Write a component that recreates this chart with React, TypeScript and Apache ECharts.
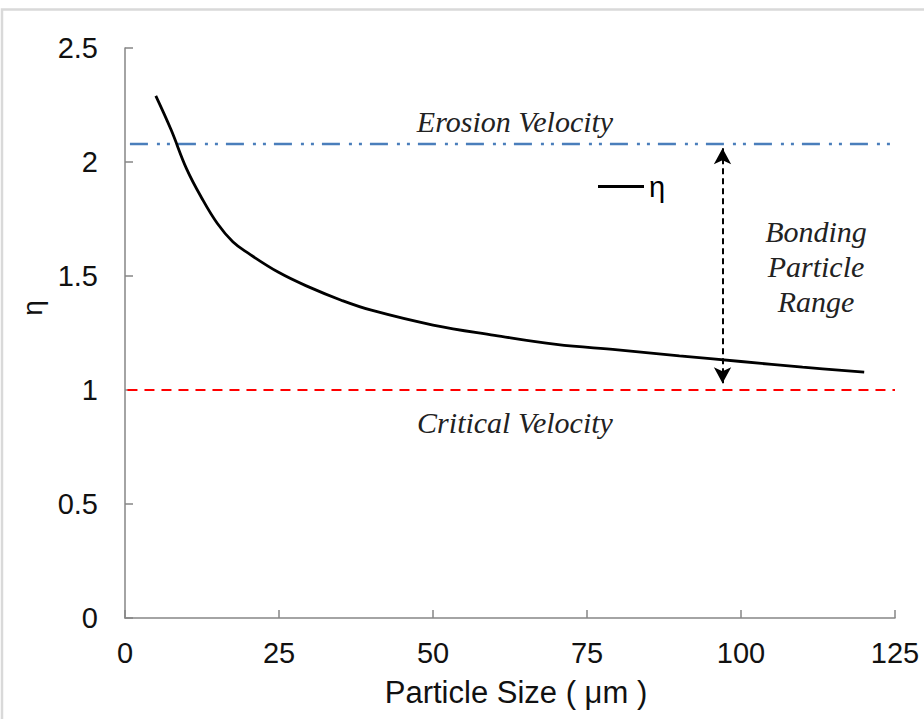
import React, { useEffect, useRef } from "react";
import * as echarts from "echarts";

// Particle size (µm) and η
const particleSize = [5, 7.5, 10, 12.5, 15, 17.5, 20, 25, 30, 35, 40, 50, 60, 70, 80, 90, 100, 110, 120];
const etaValues = [2.29, 2.14, 1.97, 1.84, 1.73, 1.65, 1.6, 1.515, 1.45, 1.395, 1.35, 1.285, 1.24, 1.2, 1.176, 1.15, 1.125, 1.1, 1.078];

// reference levels
const erosionEta = 2.08;
const criticalEta = 1.0;

// bonding range arrow
const rangeX = 97;
const rangeTop = 2.06;
const rangeBottom = 1.03;

const seriesName = "η";
const xName = "Particle Size ( μm )";
const yName = "η";
const erosionLabel = "Erosion Velocity";
const criticalLabel = "Critical Velocity";
const rangeLabel = "Bonding\nParticle\nRange";

const SANS = "Liberation Sans";
const SERIF = "Liberation Serif";

export default function App() {
  const ref = useRef<HTMLDivElement>(null);
  useEffect(() => {
    if (!ref.current) return;
    const chart = echarts.init(ref.current, undefined, { renderer: "svg" });
    const lineData = particleSize.map((x, i) => [x, etaValues[i]]);
    const serifText = (text: string, x: number, y: number, extra: any = {}) => ({
      type: "text",
      x,
      y,
      style: {
        text,
        fontFamily: SERIF,
        fontStyle: "italic",
        fontSize: 30,
        fill: "#222",
        align: "center",
        verticalAlign: "middle",
        ...extra,
      },
    });
    chart.setOption({
      animation: false,
      backgroundColor: "#ffffff",
      grid: { left: 125, right: 29, top: 48, bottom: 101, containLabel: false },
      legend: {
        data: [{ name: seriesName, icon: "path://M0,0 L46,0 L46,3 L0,3 Z" }],
        left: 593,
        top: 167,
        itemWidth: 46,
        itemHeight: 3,
        itemGap: 4,
        textStyle: { fontFamily: SANS, fontSize: 29, color: "#000" },
      },
      xAxis: {
        type: "value",
        min: 0,
        max: 125,
        interval: 25,
        name: xName,
        nameLocation: "middle",
        nameGap: 59,
        nameTextStyle: { fontFamily: SANS, fontSize: 31, color: "#111", padding: [0, 0, 0, 12] },
        axisLine: { show: true, lineStyle: { color: "#868686", width: 1.5 } },
        axisTick: { show: true, inside: true, length: 8, lineStyle: { color: "#868686", width: 1.5 } },
        axisLabel: { fontFamily: SANS, fontSize: 29, color: "#111", margin: 20 },
        splitLine: { show: false },
      },
      yAxis: {
        type: "value",
        min: 0,
        max: 2.5,
        interval: 0.5,
        axisLine: { show: true, lineStyle: { color: "#868686", width: 1.5 } },
        axisTick: { show: true, inside: true, length: 8, lineStyle: { color: "#868686", width: 1.5 } },
        axisLabel: { fontFamily: SANS, fontSize: 29, color: "#111", margin: 27 },
        splitLine: { show: false },
      },
      series: [
        {
          name: seriesName,
          type: "line",
          data: lineData,
          smooth: 0.4,
          symbol: "none",
          lineStyle: { color: "#000", width: 2.8 },
          itemStyle: { color: "#000" },
          z: 5,
        },
        {
          name: "erosion",
          type: "line",
          data: [],
          markLine: {
            silent: true,
            symbol: ["none", "none"],
            label: { show: false },
            lineStyle: { color: "#4A7EBB", width: 2.3, type: [18, 9, 3, 7, 3, 8] },
            data: [[{ coord: [0.8, erosionEta] }, { coord: [125, erosionEta] }]],
          },
        },
        {
          name: "critical",
          type: "line",
          data: [],
          markLine: {
            silent: true,
            symbol: ["none", "none"],
            label: { show: false },
            lineStyle: { color: "#FF0000", width: 2, type: [10, 7] },
            data: [[{ coord: [0.4, criticalEta] }, { coord: [125, criticalEta] }]],
          },
        },
        {
          name: "range",
          type: "line",
          data: [],
          markLine: {
            silent: true,
            symbol: ["arrow", "arrow"],
            symbolSize: [13, 16],
            label: { show: false },
            lineStyle: { color: "#000", width: 2, type: [6, 4] },
            data: [[{ coord: [rangeX, rangeTop] }, { coord: [rangeX, rangeBottom] }]],
          },
        },
      ],
      graphic: [
        {
          type: "rect",
          z: -10,
          shape: { x: 2, y: 9.5, width: 960, height: 760 },
          style: { fill: "none", stroke: "#d9d9d9", lineWidth: 2.5 },
        },
        {
          type: "text",
          x: 32,
          y: 308,
          rotation: Math.PI / 2,
          style: {
            text: yName,
            fontFamily: SANS,
            fontSize: 28,
            fill: "#111",
            align: "center",
            verticalAlign: "middle",
          },
        },
        serifText(erosionLabel, 515, 121),
        serifText(criticalLabel, 515, 422),
        serifText(rangeLabel, 816, 266, { lineHeight: 35 }),
      ],
    });
    return () => chart.dispose();
  }, []);
  return (
    <div
      ref={ref}
      style={{ position: "fixed", left: 0, top: 0, width: 924, height: 719, background: "#fff" }}
    />
  );
}
